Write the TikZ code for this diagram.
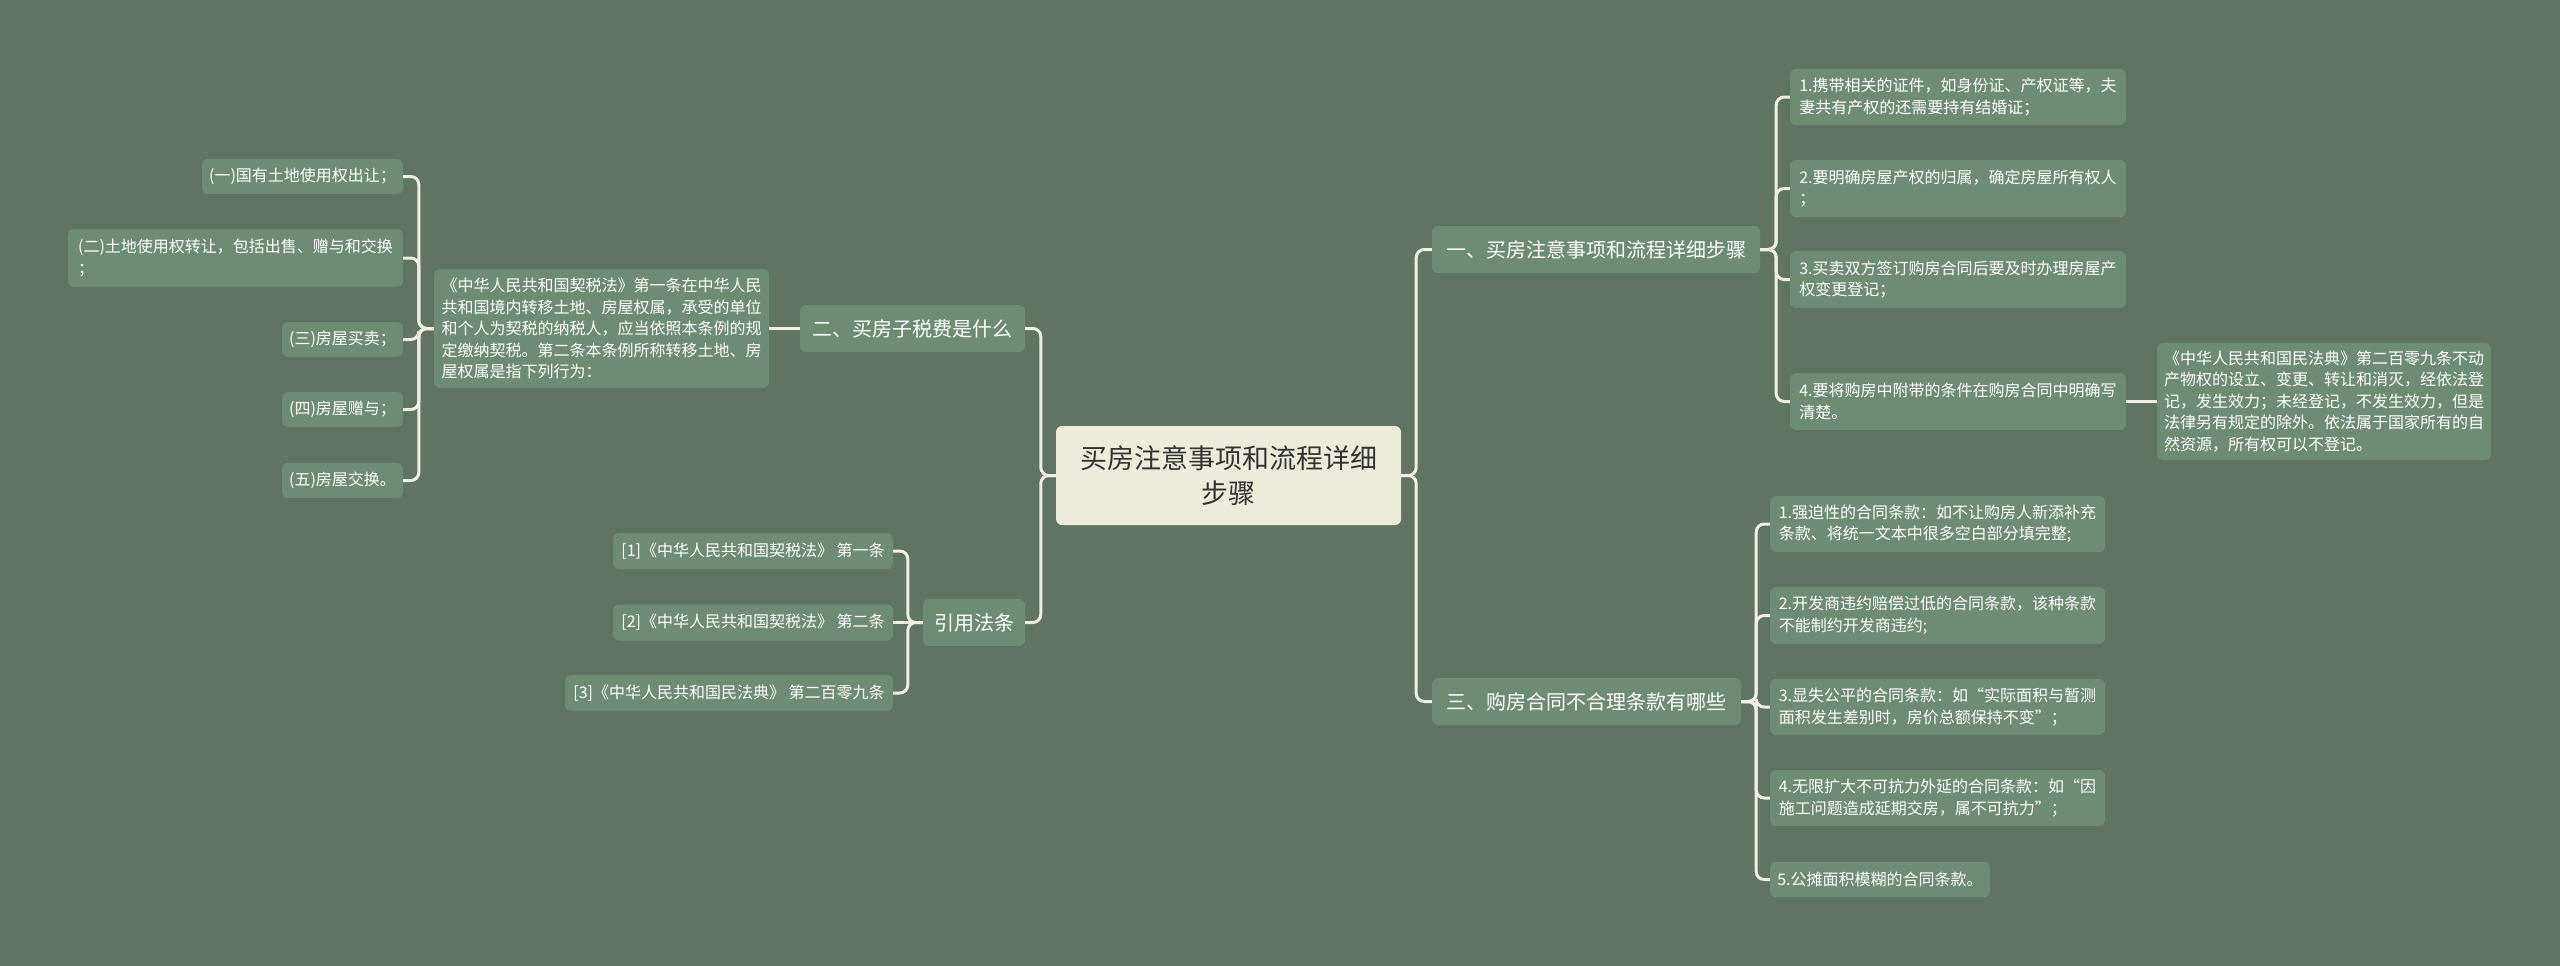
\documentclass[tikz,border=0pt]{standalone}
\usepackage{fontspec}
\setmainfont{Noto Sans CJK SC}
\definecolor{bgcol}{HTML}{5F7462}
\definecolor{boxcol}{HTML}{6E8C74}
\definecolor{linecol}{HTML}{F2EFE0}
\definecolor{rootcol}{HTML}{EFEBDB}
\definecolor{roottext}{HTML}{333333}

\begin{document}
\begin{tikzpicture}[x=1pt, y=-1pt,
  rootbox/.style={fill=rootcol, text=roottext, rounded corners=6pt, inner sep=0pt,
    align=center, font=\fontsize{27}{35}\selectfont},
  branch/.style={fill=boxcol, text=white, rounded corners=6pt, inner sep=0pt,
    minimum height=47pt, font=\fontsize{20}{26}\selectfont},
  leaf/.style={fill=boxcol, text=white, rounded corners=6pt, inner sep=0pt,
    align=left, font=\fontsize{16}{21.5}\selectfont},
  link/.style={draw=linecol, line width=3pt, rounded corners=8pt}]
% Background and page size
\fill[bgcol] (0,0) rectangle (2560,966);
\useasboundingbox (0,0) rectangle (2560,966);
% Central topic
\node[rootbox, minimum width=345pt, minimum height=99pt] (root) at (1228.5,475.5)
  {买房注意事项和流程详细\\步骤};
% Main branches
\node[branch, minimum width=328pt] (b1) at (1596,249.5) {一、买房注意事项和流程详细步骤};
\node[branch, minimum width=309pt] (b3) at (1586.5,701.5) {三、购房合同不合理条款有哪些};
\node[branch, minimum width=225pt] (b2) at (912.5,328.5) {二、买房子税费是什么};
\node[branch, minimum width=102pt] (b4) at (974,622.5) {引用法条};
% Branch one: steps
\node[leaf, minimum width=336pt, minimum height=56pt] (r1) at (1958,97)
  {1.携带相关的证件，如身份证、产权证等，夫\\妻共有产权的还需要持有结婚证；};
\node[leaf, minimum width=336pt, minimum height=57pt] (r2) at (1958,188.5)
  {2.要明确房屋产权的归属，确定房屋所有权人\\；};
\node[leaf, minimum width=336pt, minimum height=57pt] (r3) at (1958,279.5)
  {3.买卖双方签订购房合同后要及时办理房屋产\\权变更登记；};
\node[leaf, minimum width=336pt, minimum height=57pt] (r4) at (1958,401.5)
  {4.要将购房中附带的条件在购房合同中明确写\\清楚。};
\node[leaf, minimum width=334pt, minimum height=117pt] (note) at (2324,401.5)
  {《中华人民共和国民法典》第二百零九条不动\\产物权的设立、变更、转让和消灭，经依法登\\记，发生效力；未经登记，不发生效力，但是\\法律另有规定的除外。依法属于国家所有的自\\然资源，所有权可以不登记。};
% Branch three: unfair clauses
\node[leaf, minimum width=335pt, minimum height=56pt] (s1) at (1937.5,524)
  {1.强迫性的合同条款：如不让购房人新添补充\\条款、将统一文本中很多空白部分填完整;};
\node[leaf, minimum width=335pt, minimum height=57pt] (s2) at (1937.5,615.5)
  {2.开发商违约赔偿过低的合同条款，该种条款\\不能制约开发商违约;};
\node[leaf, minimum width=335pt, minimum height=56pt] (s3) at (1937.5,707)
  {3.显失公平的合同条款：如“实际面积与暂测\\面积发生差别时，房价总额保持不变”；};
\node[leaf, minimum width=335pt, minimum height=56pt] (s4) at (1937.5,798)
  {4.无限扩大不可抗力外延的合同条款：如“因\\施工问题造成延期交房，属不可抗力”；};
\node[leaf, minimum width=220pt, minimum height=35pt] (s5) at (1880,879.5)
  {5.公摊面积模糊的合同条款。};
% Branch two: tax
\node[leaf, minimum width=335pt, minimum height=119pt] (t) at (601.5,328.5)
  {《中华人民共和国契税法》第一条在中华人民\\共和国境内转移土地、房屋权属，承受的单位\\和个人为契税的纳税人，应当依照本条例的规\\定缴纳契税。第二条本条例所称转移土地、房\\屋权属是指下列行为：};
\node[leaf, minimum width=201pt, minimum height=35pt] (l1) at (302.5,176.5) {(一)国有土地使用权出让；};
\node[leaf, minimum width=335pt, minimum height=58pt] (l2) at (235.5,258)
  {(二)土地使用权转让，包括出售、赠与和交换\\；};
\node[leaf, minimum width=121pt, minimum height=35pt] (l3) at (342.5,339.5) {(三)房屋买卖；};
\node[leaf, minimum width=121pt, minimum height=35pt] (l4) at (342.5,409.5) {(四)房屋赠与；};
\node[leaf, minimum width=121pt, minimum height=35pt] (l5) at (342.5,480.5) {(五)房屋交换。};
% Cited articles
\node[leaf, minimum width=280pt, minimum height=36pt] (c1) at (753,551) {[1]《中华人民共和国契税法》 第一条};
\node[leaf, minimum width=280pt, minimum height=36pt] (c2) at (753,622.5) {[2]《中华人民共和国契税法》 第二条};
\node[leaf, minimum width=328pt, minimum height=36pt] (c3) at (729,693) {[3]《中华人民共和国民法典》 第二百零九条};
% Connectors
\foreach \nd in {b1,b3}
  \draw[link] (\nd.west) -| ([xshift=15pt]root.east) [sharp corners] -- (root.east);
\foreach \nd in {b2,b4}
  \draw[link] (\nd.east) -| ([xshift=-15pt]root.west) [sharp corners] -- (root.west);
\foreach \nd in {r1,r2,r3,r4}
  \draw[link] (\nd.west) -| ([xshift=16pt]b1.east) [sharp corners] -- (b1.east);
\draw[link] (r4.east) -- (note.west);
\foreach \nd in {s1,s2,s3,s4,s5}
  \draw[link] (\nd.west) -| ([xshift=15pt]b3.east) [sharp corners] -- (b3.east);
\draw[link] (b2.west) -- (t.east);
\foreach \nd in {l1,l2,l3,l4,l5}
  \draw[link] (\nd.east) -| ([xshift=-15pt]t.west) [sharp corners] -- (t.west);
\foreach \nd in {c1,c3}
  \draw[link] (\nd.east) -| ([xshift=-15pt]b4.west) [sharp corners] -- (b4.west);
\draw[link] (c2.east) -- (b4.west);
\end{tikzpicture}
\end{document}
